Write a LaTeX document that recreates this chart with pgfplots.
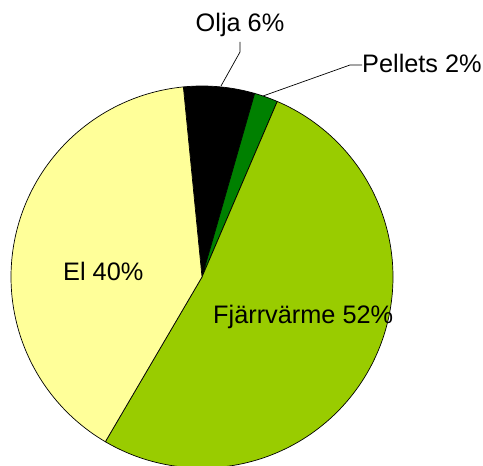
\documentclass[border=0pt]{standalone}
\usepackage{pgfplots}
\pgfplotsset{compat=1.18}
\usepackage{fontspec}
\setmainfont{Liberation Sans}

\definecolor{el}{HTML}{FFFF99}
\definecolor{fjv}{HTML}{99CC00}
\definecolor{pell}{HTML}{008000}

% shares in percent, clockwise from the top
\def\olja{6}
\def\pellets{2}
\def\fjarr{52}
\def\elshare{40}
\def\startangle{95.6}
\def\R{191}

\begin{document}
\begin{tikzpicture}
\pgfmathsetmacro\aA{\startangle}
\pgfmathsetmacro\aB{\aA-3.6*\olja}
\pgfmathsetmacro\aC{\aB-3.6*\pellets}
\pgfmathsetmacro\aD{\aC-3.6*\fjarr}
\pgfmathsetmacro\aE{\aD-3.6*\elshare}
\begin{axis}[
    scale only axis,
    width=483bp, height=466bp,
    xmin=-202, xmax=281,
    ymin=-189, ymax=277,
    hide axis,
    clip=false,
    font=\fontsize{25.4}{29}\selectfont,
]
\addplot[draw=black, line width=0.7pt, fill=black, data cs=polar, domain=\aB:\aA, samples=30]
    ({x},{\R}) -- (axis cs:0,0) -- cycle;
\addplot[draw=black, line width=0.7pt, fill=pell, data cs=polar, domain=\aC:\aB, samples=15]
    ({x},{\R}) -- (axis cs:0,0) -- cycle;
\addplot[draw=black, line width=0.7pt, fill=fjv, data cs=polar, domain=\aD:\aC, samples=200]
    ({x},{\R}) -- (axis cs:0,0) -- cycle;
\addplot[draw=black, line width=0.7pt, fill=el, data cs=polar, domain=\aE:\aD, samples=160]
    ({x},{\R}) -- (axis cs:0,0) -- cycle;

% leader lines
\addplot[black, line width=0.7pt] coordinates {(19,191) (38,225) (38,235)};
\addplot[black, line width=0.7pt] coordinates {(61,181) (148,212) (160,212)};

\node[anchor=base, inner sep=0pt] at (axis cs:38,245) {Olja 6\%};
\node[anchor=base west, inner sep=0pt] at (axis cs:160,204) {Pellets 2\%};
\node[anchor=base west, inner sep=0pt] at (axis cs:-139,-4) {El 40\%};
\node[anchor=base west, inner sep=0pt] at (axis cs:11,-47) {Fjärrvärme 52\%};
\end{axis}
\pgfresetboundingbox
\useasboundingbox (current axis.south west) rectangle (current axis.north east);
\end{tikzpicture}
\end{document}
